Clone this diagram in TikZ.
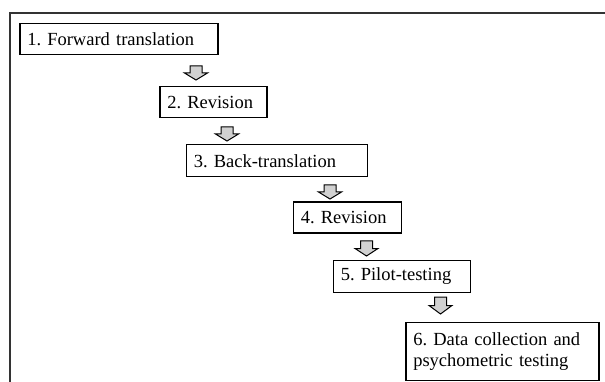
\documentclass[tikz,border=0pt]{standalone}
\usepackage{fontspec}
\setmainfont{Liberation Serif}
\begin{document}
\frenchspacing
\begin{tikzpicture}[x=1pt,y=-1pt,
  stepbox/.style={draw=black, line width=1.5pt, anchor=north west, inner xsep=7.5pt, inner ysep=0pt,
    align=left, font=\fontsize{18.5}{21}\selectfont},
  blockarrow/.style={draw=black, line width=1pt, fill=black!18, line join=miter}]
\useasboundingbox (0,0) rectangle (605,382);
% outer frame
\draw[line width=2pt, black!80] (606,13) -- (9.5,13) -- (9.5,384);
% boxes
\node[stepbox, minimum width=198pt, minimum height=31pt, text width=183pt] (b1) at (19,23) {1. Forward translation};
\node[stepbox, minimum width=107pt, minimum height=31pt, text width=92pt] (b2) at (159,86) {2. Revision};
\node[stepbox, minimum width=181pt, minimum height=32pt, text width=166pt] (b3) at (185.5,144) {3. Back-translation};
\node[stepbox, minimum width=108pt, minimum height=31pt, text width=93pt] (b4) at (292.5,201.5) {4. Revision};
\node[stepbox, minimum width=137pt, minimum height=32pt, text width=122pt] (b5) at (332.5,259.5) {5. Pilot-testing};
\node[stepbox, minimum width=193pt, minimum height=58pt, text width=178pt] (b6) at (405,321.5) {6. Data collection and\\psychometric testing};
% block arrows
\newcommand\blockarr[3]{%
  \draw[blockarrow] (#1-6,#2) -- (#1+6,#2) -- (#1+6,{#2+0.5*(#3-#2)}) -- (#1+11.5,{#2+0.5*(#3-#2)})
    -- (#1,#3) -- (#1-11.5,{#2+0.5*(#3-#2)}) -- (#1-6,{#2+0.5*(#3-#2)}) -- cycle;}
\blockarr{196}{66}{80}
\blockarr{227}{127}{141}
\blockarr{330}{185}{199}
\blockarr{366.5}{241}{256}
\blockarr{440.5}{297}{314}
\end{tikzpicture}
\end{document}
